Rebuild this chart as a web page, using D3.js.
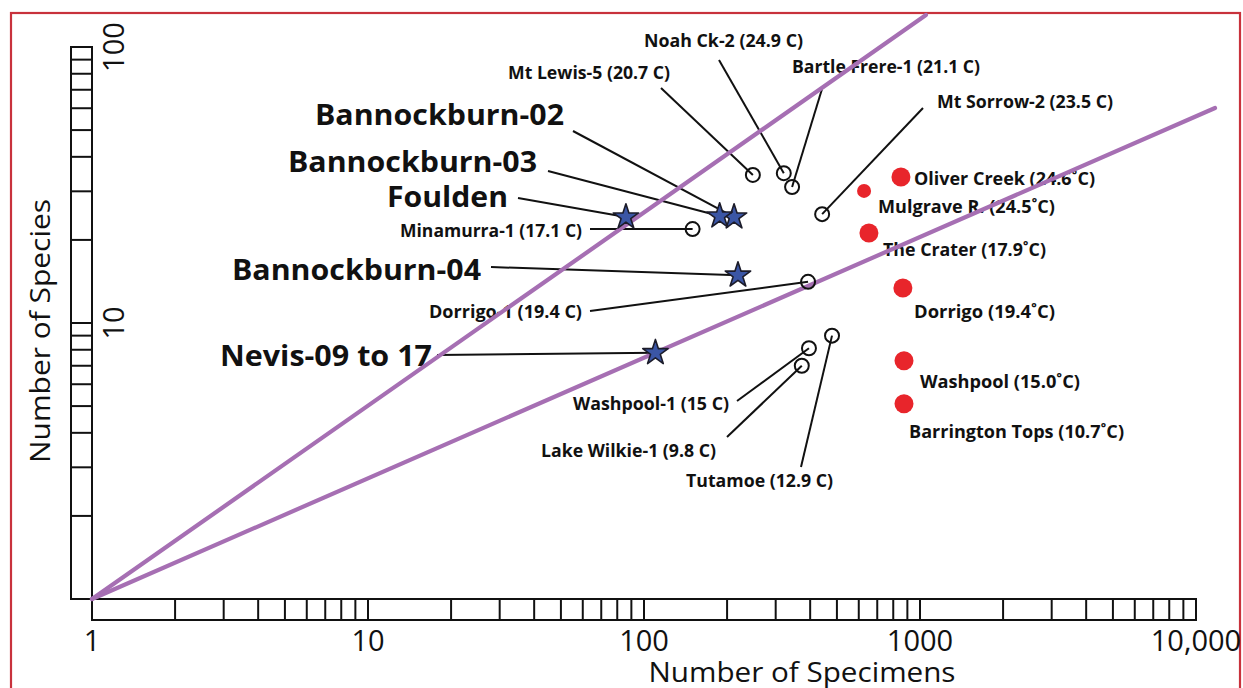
<!DOCTYPE html>
<html>
<head>
<meta charset="utf-8">
<script src="https://cdn.jsdelivr.net/npm/d3@7"></script>
<style>
  body { margin: 0; background: #fff; }
  svg { display: block; }
  text { font-family: "Open Sans", "Noto Sans", sans-serif; fill: #111; }
</style>
</head>
<body>
<svg id="chart" width="1243" height="688"></svg>
<script>
// Fossil assemblages (stars)
const fossilNames = ["Bannockburn-02", "Bannockburn-03", "Foulden", "Bannockburn-04", "Nevis-09 to 17"];
const fossilSpecimens = [212, 188, 86, 219, 110];
const fossilSpecies = [24.2, 24.4, 24.2, 14.9, 7.8];

// Modern leaf-litter samples (open circles), with mean annual temperature
const litterNames = ["Noah Ck-2 (24.9 C)", "Mt Lewis-5 (20.7 C)", "Bartle Frere-1 (21.1 C)", "Mt Sorrow-2 (23.5 C)",
  "Minamurra-1 (17.1 C)", "Dorrigo-1 (19.4 C)", "Washpool-1 (15 C)", "Lake Wilkie-1 (9.8 C)", "Tutamoe (12.9 C)"];
const litterSpecimens = [321, 248, 344, 442, 150, 393, 396, 373, 480];
const litterSpecies = [34.9, 34.4, 31.1, 24.8, 21.9, 14.1, 8.1, 7.0, 9.0];

// Modern forest sites (red dots)
const forestNames = ["Oliver Creek (24.6˚C)", "Mulgrave R. (24.5˚C)", "The Crater (17.9˚C)", "Dorrigo (19.4˚C)",
  "Washpool (15.0˚C)", "Barrington Tops (10.7˚C)"];
const forestSpecimens = [853, 627, 653, 867, 875, 875];
const forestSpecies = [33.8, 30.1, 21.2, 13.4, 7.3, 5.1];

// Reference lines running out from the origin (1, 1)
const refLineEndSpecimens = [1051, 11720];
const refLineEndSpecies = [130.6, 60.1];

// Axis labels
const xTickValues = [1, 10, 100, 1000, 10000];
const xTickLabels = ["1", "10", "100", "1000", "10,000"];
const yTickValues = [10, 100];
const yTickLabels = ["10", "100"];

// ---------------------------------------------------------------------------
// Label placement: left edge, baseline, width, font size and leader start (px)
const labelLayout = {
  "Bannockburn-02":  { x: 315, y: 125, w: 249, size: 28, lead: [573, 131] },
  "Bannockburn-03":  { x: 288, y: 172, w: 249, size: 28, lead: [548, 171] },
  "Foulden":         { x: 387, y: 207, w: 121, size: 28, lead: [518, 198] },
  "Bannockburn-04":  { x: 232, y: 280, w: 249, size: 28, lead: [491, 267] },
  "Nevis-09 to 17":  { x: 220, y: 366, w: 212, size: 28, lead: [437, 355] },
  "Noah Ck-2 (24.9 C)":      { x: 644, y: 47,  w: 159, size: 17, lead: [719, 60] },
  "Mt Lewis-5 (20.7 C)":     { x: 508, y: 79,  w: 162, size: 17, lead: [661, 88] },
  "Bartle Frere-1 (21.1 C)": { x: 792, y: 73,  w: 188, size: 17, lead: [822, 89] },
  "Mt Sorrow-2 (23.5 C)":    { x: 937, y: 108, w: 176, size: 17, lead: [923, 108] },
  "Minamurra-1 (17.1 C)":    { x: 400, y: 237, w: 182, size: 17, lead: [590, 229] },
  "Dorrigo-1 (19.4 C)":      { x: 429, y: 318, w: 153, size: 17, lead: [590, 311] },
  "Washpool-1 (15 C)":       { x: 573, y: 410, w: 156, size: 17, lead: [737, 401] },
  "Lake Wilkie-1 (9.8 C)":   { x: 541, y: 457, w: 175, size: 17, lead: [727, 437] },
  "Tutamoe (12.9 C)":        { x: 686, y: 487, w: 147, size: 17, lead: [801, 467] },
  "Oliver Creek (24.6˚C)":    { x: 914, y: 185, w: 181, size: 18 },
  "Mulgrave R. (24.5˚C)":     { x: 878, y: 213, w: 177, size: 18 },
  "The Crater (17.9˚C)":      { x: 883, y: 256, w: 163, size: 18 },
  "Dorrigo (19.4˚C)":         { x: 914, y: 318, w: 141, size: 18 },
  "Washpool (15.0˚C)":        { x: 920, y: 388, w: 160, size: 18 },
  "Barrington Tops (10.7˚C)": { x: 909, y: 438, w: 215, size: 18 }
};

const svg = d3.select("#chart");
const W = 1243, H = 688;

const x = d3.scaleLog().domain([1, 10000]).range([92, 1196]);
const y = d3.scaleLog().domain([1, 100]).range([599, 47]);

const AXIS_BAR = 21;     // thickness of the ruler-style axes
const INK = "#111";
const PURPLE = "#a66fb3";
const RED = "#e8252b";
const BLUE = "#3b56a5";

// Outer red frame
svg.append("rect")
  .attr("x", 11).attr("y", 13)
  .attr("width", 1229).attr("height", H)
  .attr("fill", "none").attr("stroke", "#c8323c").attr("stroke-width", 2.2);

// ---- X axis: ruler bar with a cell for every 1..9 x 10^k
const gx = svg.append("g");
gx.append("rect")
  .attr("x", x(1)).attr("y", y(1))
  .attr("width", x(10000) - x(1)).attr("height", AXIS_BAR)
  .attr("fill", "none").attr("stroke", INK).attr("stroke-width", 2);
gx.selectAll("line.tick").data(x.ticks()).join("line")
  .attr("class", "tick")
  .attr("x1", d => x(d)).attr("x2", d => x(d))
  .attr("y1", y(1)).attr("y2", y(1) + AXIS_BAR)
  .attr("stroke", INK).attr("stroke-width", 2);
gx.selectAll("text").data(xTickValues).join("text")
  .attr("x", d => x(d)).attr("y", 651)
  .attr("text-anchor", "middle")
  .attr("font-size", 29)
  .text((d, i) => xTickLabels[i]);
gx.append("text")
  .attr("x", 802).attr("y", 682)
  .attr("text-anchor", "middle")
  .attr("font-size", 28)
  .attr("textLength", 307).attr("lengthAdjust", "spacingAndGlyphs")
  .text("Number of Specimens");

// ---- Y axis: vertical ruler bar to the left of the plot
const gy = svg.append("g");
gy.append("rect")
  .attr("x", x(1) - AXIS_BAR).attr("y", y(100))
  .attr("width", AXIS_BAR).attr("height", y(1) - y(100))
  .attr("fill", "none").attr("stroke", INK).attr("stroke-width", 2);
gy.selectAll("line.tick").data(y.ticks()).join("line")
  .attr("class", "tick")
  .attr("x1", x(1) - AXIS_BAR).attr("x2", x(1))
  .attr("y1", d => y(d)).attr("y2", d => y(d))
  .attr("stroke", INK).attr("stroke-width", 2);
gy.selectAll("text").data(yTickValues).join("text")
  .attr("transform", d => `translate(124,${y(d)}) rotate(-90)`)
  .attr("text-anchor", "middle")
  .attr("font-size", 29)
  .text((d, i) => yTickLabels[i]);
gy.append("text")
  .attr("transform", "translate(50,331) rotate(-90)")
  .attr("text-anchor", "middle")
  .attr("font-size", 28)
  .attr("textLength", 264).attr("lengthAdjust", "spacingAndGlyphs")
  .text("Number of Species");

// ---- Point records
const fossils = fossilNames.map((n, i) => ({ name: n, n: fossilSpecimens[i], s: fossilSpecies[i] }));
const litter = litterNames.map((n, i) => ({ name: n, n: litterSpecimens[i], s: litterSpecies[i] }));
const forest = forestNames.map((n, i) => ({ name: n, n: forestSpecimens[i], s: forestSpecies[i] }));
const allPoints = fossils.concat(litter, forest);

// ---- Labels
const gLabels = svg.append("g");
gLabels.selectAll("text").data(allPoints).join("text")
  .attr("x", d => labelLayout[d.name].x)
  .attr("y", d => labelLayout[d.name].y)
  .attr("font-size", d => labelLayout[d.name].size)
  .attr("font-weight", 700)
  .attr("textLength", d => labelLayout[d.name].w)
  .attr("lengthAdjust", "spacingAndGlyphs")
  .text(d => d.name);

// ---- Leader lines from label to mark
const leaders = allPoints.filter(d => labelLayout[d.name].lead);
svg.append("g").selectAll("line").data(leaders).join("line")
  .attr("x1", d => labelLayout[d.name].lead[0])
  .attr("y1", d => labelLayout[d.name].lead[1])
  .attr("x2", d => x(d.n))
  .attr("y2", d => y(d.s))
  .attr("stroke", INK).attr("stroke-width", 2);

// ---- Reference lines
svg.append("g").selectAll("line").data(refLineEndSpecimens).join("line")
  .attr("x1", x(1)).attr("y1", y(1))
  .attr("x2", d => x(d))
  .attr("y2", (d, i) => y(refLineEndSpecies[i]))
  .attr("stroke", PURPLE).attr("stroke-width", 4.2)
  .attr("stroke-linecap", "round");

// ---- Leaf-litter samples
svg.append("g").selectAll("circle").data(litter).join("circle")
  .attr("cx", d => x(d.n)).attr("cy", d => y(d.s))
  .attr("r", 7)
  .attr("fill", "none").attr("stroke", INK).attr("stroke-width", 2);

// ---- Forest sites
svg.append("g").selectAll("circle").data(forest).join("circle")
  .attr("cx", d => x(d.n)).attr("cy", d => y(d.s))
  .attr("r", d => d.name.startsWith("Mulgrave") ? 7 : 9.5)
  .attr("fill", RED);

// ---- Fossil assemblages
const star = d3.symbol().type(d3.symbolStar).size(200);
svg.append("g").selectAll("path").data(fossils).join("path")
  .attr("transform", d => `translate(${x(d.n)},${y(d.s)})`)
  .attr("d", star)
  .attr("fill", BLUE)
  .attr("stroke", "#1c1c2a").attr("stroke-width", 1.6)
  .attr("stroke-linejoin", "round");
</script>
</body>
</html>
